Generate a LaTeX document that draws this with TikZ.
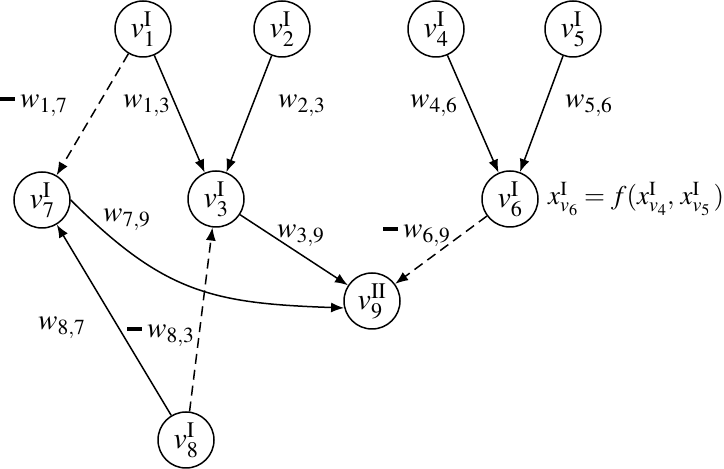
\documentclass[tikz,border=0pt]{standalone}
\usepackage{mathptmx}
\usepackage{fontspec}
\setmainfont{Liberation Serif}
\usetikzlibrary{arrows.meta}
\newcommand{\negbar}{\rule[7pt]{15pt}{3.5pt}\hspace{5pt}}
\begin{document}
\begin{tikzpicture}[x=1pt,y=1pt,
  vtx/.style={circle,draw,line width=1.5pt,minimum size=56pt,inner sep=0pt,font=\fontsize{30}{32}\selectfont},
  lbl/.style={anchor=base west,inner sep=0pt,font=\fontsize{29}{32}\selectfont},
  arr/.style={line width=1.5pt,-{Latex[length=13pt,width=10pt]}},
  dsh/.style={arr,dash pattern=on 10pt off 6pt}]
\useasboundingbox (0,0) rectangle (724,469);
\node[vtx] (v1) at (143,440) {$v^{\mathrm{I}}_{1}$};
\node[vtx] (v2) at (282,440) {$v^{\mathrm{I}}_{2}$};
\node[vtx] (v4) at (436,440) {$v^{\mathrm{I}}_{4}$};
\node[vtx] (v5) at (573,440) {$v^{\mathrm{I}}_{5}$};
\node[vtx] (v7) at (42,269) {$v^{\mathrm{I}}_{7}$};
\node[vtx] (v3) at (216,270) {$v^{\mathrm{I}}_{3}$};
\node[vtx] (v6) at (510,270) {$v^{\mathrm{I}}_{6}$};
\node[vtx] (v9) at (372,168) {$v^{\mathrm{II}}_{9}$};
\node[vtx] (v8) at (186,29) {$v^{\mathrm{I}}_{8}$};
\draw[dsh] (v1) -- (v7);
\draw[arr] (v1) -- (v3);
\draw[arr] (v2) -- (v3);
\draw[arr] (v4) -- (v6);
\draw[arr] (v5) -- (v6);
\draw[arr] (v3) -- (v9);
\draw[dsh] (v6) -- (v9);
\draw[arr] (v8) -- (v7);
\draw[dsh] (v8) -- (v3);
\draw[arr] (v7.east) to[out=-45,in=178,looseness=1.15] (v9.194);
\node[lbl] (l17) at (0,361) {\negbar$w_{1,7}$};
\node[lbl] (l13) at (123,361) {$w_{1,3}$};
\node[lbl] (l23) at (278,361) {$w_{2,3}$};
\node[lbl] (l46) at (410,361) {$w_{4,6}$};
\node[lbl] (l56) at (565,361) {$w_{5,6}$};
\node[lbl] (l79) at (103,247) {$w_{7,9}$};
\node[lbl] (l39) at (277,231) {$w_{3,9}$};
\node[lbl] (l69) at (383,231) {\negbar$w_{6,9}$};
\node[lbl] (l87) at (38,139) {$w_{8,7}$};
\node[lbl] (l83) at (127,131) {\negbar$w_{8,3}$};
\node[lbl,font=\fontsize{27}{30}\selectfont] (fx) at (548,264) {$x^{\mathrm{I}}_{v_6}=f(x^{\mathrm{I}}_{v_4},\,x^{\mathrm{I}}_{v_5}\,)$};
\end{tikzpicture}
\end{document}
